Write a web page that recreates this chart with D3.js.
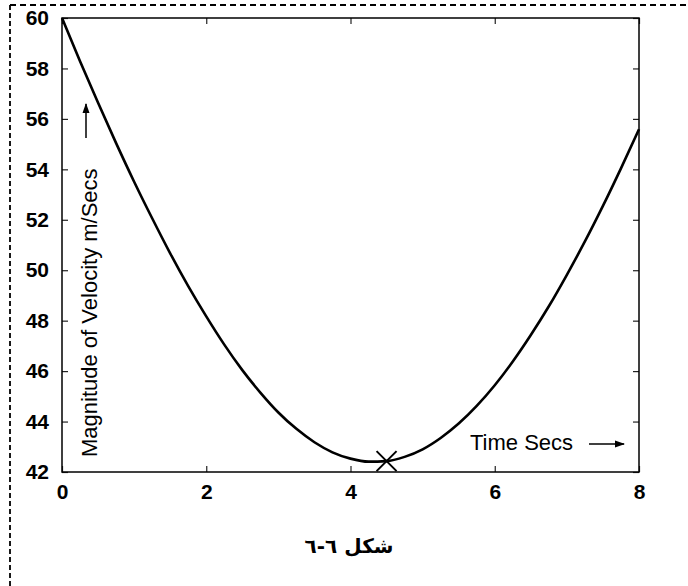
<!DOCTYPE html>
<html>
<head>
<meta charset="utf-8">
<script src="https://cdn.jsdelivr.net/npm/d3@7"></script>
<style>
  html, body { margin: 0; padding: 0; background: #fff; }
  svg { display: block; }
</style>
</head>
<body>
<svg id="chart" width="688" height="586"></svg>
<script>
// Time samples (s) and speed magnitude (m/s) along the trajectory
const timeSecs = [0, 0.25, 0.5, 0.75, 1, 1.25, 1.5, 1.75, 2, 2.25, 2.5, 2.75, 3, 3.25, 3.5, 3.75,
                  4, 4.25, 4.5, 4.75, 5, 5.25, 5.5, 5.75, 6, 6.25, 6.5, 6.75, 7, 7.25, 7.5, 7.75, 8];
const speed = [60.00, 58.29, 56.64, 55.04, 53.51, 52.06, 50.67, 49.37, 48.17, 47.05, 46.04, 45.15,
               44.36, 43.71, 43.18, 42.78, 42.53, 42.41, 42.43, 42.60, 42.90, 43.35, 43.92, 44.62,
               45.44, 46.38, 47.43, 48.57, 49.82, 51.14, 52.55, 54.04, 55.59];
// Marked minimum-speed point
const minPoint = [4.5, 42.43];
const xTicks = [0, 2, 4, 6, 8];
const yTicks = [42, 44, 46, 48, 50, 52, 54, 56, 58, 60];
const yLabel = "Magnitude of Velocity m/Secs";
const xLabel = "Time Secs";
const caption = "شكل  ٦-٦";

const svg = d3.select("#chart");
const L = 62, R = 639, T = 18, B = 472;

const x = d3.scaleLinear().domain([0, 8]).range([L, R]);
const y = d3.scaleLinear().domain([42, 60]).range([B, T]);

// dashed frame (top and left edges)
svg.append("line").attr("x1", 10).attr("y1", 5).attr("x2", 688).attr("y2", 5)
  .attr("stroke", "#000").attr("stroke-width", 2).attr("stroke-dasharray", "6,4");
svg.append("line").attr("x1", 10).attr("y1", 5).attr("x2", 10).attr("y2", 586)
  .attr("stroke", "#000").attr("stroke-width", 1.8).attr("stroke-dasharray", "5,3");

// axes with inward ticks on all four sides
const tickLen = 6;
const axisStyle = g => {
  g.select(".domain").remove();
  g.selectAll(".tick line").attr("stroke", "#222").attr("stroke-width", 1.2);
};
svg.append("g").attr("transform", `translate(0,${B})`)
  .call(d3.axisBottom(x).tickValues(xTicks).tickSizeInner(-tickLen).tickSizeOuter(0).tickPadding(12))
  .call(axisStyle)
  .selectAll("text").attr("font-family", "Liberation Sans, Arial, sans-serif")
  .attr("font-weight", "bold").attr("font-size", 21).attr("fill", "#000");
svg.append("g").attr("transform", `translate(0,${T})`)
  .call(d3.axisTop(x).tickValues(xTicks).tickSizeInner(-tickLen).tickSizeOuter(0).tickFormat(""))
  .call(axisStyle);
svg.append("g").attr("transform", `translate(${L},0)`)
  .call(d3.axisLeft(y).tickValues(yTicks).tickSizeInner(-tickLen).tickSizeOuter(0).tickPadding(13))
  .call(axisStyle)
  .selectAll("text").attr("font-family", "Liberation Sans, Arial, sans-serif")
  .attr("font-weight", "bold").attr("font-size", 21).attr("fill", "#000");
svg.append("g").attr("transform", `translate(${R},0)`)
  .call(d3.axisRight(y).tickValues(yTicks).tickSizeInner(-tickLen).tickSizeOuter(0).tickFormat(""))
  .call(axisStyle);

// plot box
svg.append("rect").attr("x", L).attr("y", T).attr("width", R - L).attr("height", B - T)
  .attr("fill", "none").attr("stroke", "#000").attr("stroke-width", 1.5);

// speed curve
const line = d3.line().x((d, i) => x(timeSecs[i])).y(d => y(d)).curve(d3.curveMonotoneX);
svg.append("path").datum(speed).attr("d", line)
  .attr("fill", "none").attr("stroke", "#000").attr("stroke-width", 2.6)
  .attr("stroke-linejoin", "round");

// minimum marker
const mx = x(minPoint[0]), my = y(minPoint[1]), ms = 10;
svg.append("path")
  .attr("d", `M${mx - ms},${my - ms}L${mx + ms},${my + ms}M${mx - ms},${my + ms}L${mx + ms},${my - ms}`)
  .attr("stroke", "#000").attr("stroke-width", 2).attr("fill", "none");

// arrowhead
svg.append("defs").append("marker").attr("id", "arr")
  .attr("viewBox", "0 0 10 10").attr("refX", 9).attr("refY", 5)
  .attr("markerWidth", 10).attr("markerHeight", 10).attr("markerUnits", "userSpaceOnUse")
  .attr("orient", "auto")
  .append("path").attr("d", "M0,1.5L10,5L0,8.5Z").attr("fill", "#000");

// x label with arrow
svg.append("text").attr("x", 470).attr("y", 450)
  .attr("font-family", "Liberation Sans, Arial, sans-serif").attr("font-size", 22)
  .attr("fill", "#000").text(xLabel);
svg.append("line").attr("x1", 589).attr("y1", 444).attr("x2", 624).attr("y2", 444)
  .attr("stroke", "#000").attr("stroke-width", 1.5).attr("marker-end", "url(#arr)");

// y label with arrow (rotated)
svg.append("text").attr("transform", "translate(97,457) rotate(-90)")
  .attr("font-family", "Liberation Sans, Arial, sans-serif").attr("font-size", 22)
  .attr("fill", "#000").text(yLabel);
svg.append("line").attr("x1", 86).attr("y1", 138).attr("x2", 86).attr("y2", 104)
  .attr("stroke", "#000").attr("stroke-width", 1.5).attr("marker-end", "url(#arr)");

// caption
svg.append("text").attr("x", 349).attr("y", 553).attr("text-anchor", "middle")
  .attr("direction", "rtl")
  .attr("font-family", "DejaVu Sans, sans-serif").attr("font-weight", "bold").attr("font-size", 20)
  .attr("fill", "#000").text(caption);
</script>
</body>
</html>
